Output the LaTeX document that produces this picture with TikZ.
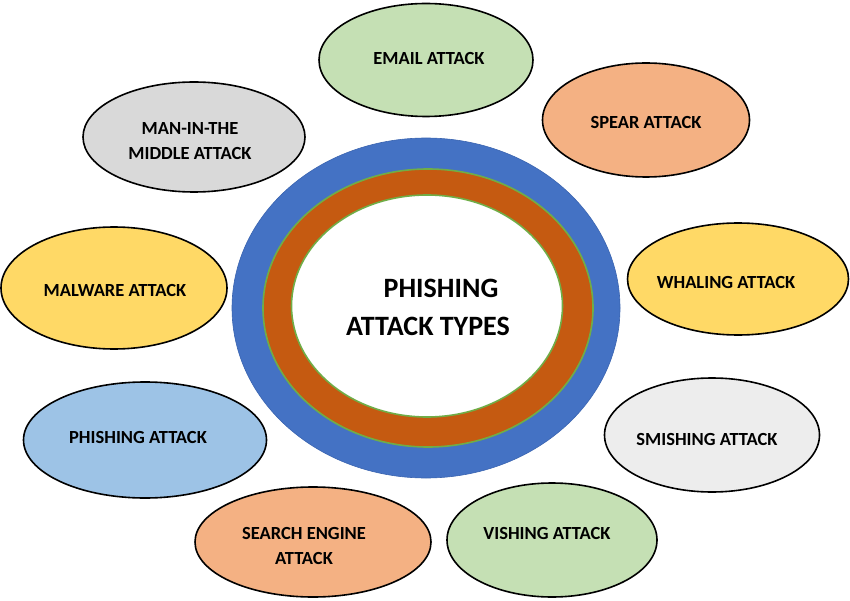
\documentclass[tikz,border=0pt]{standalone}
\usepackage{fontspec}
\setmainfont{Carlito}
\usetikzlibrary{shapes.geometric}
\definecolor{cgreen}{HTML}{C5E0B4}
\definecolor{corange}{HTML}{F4B183}
\definecolor{cgray}{HTML}{D9D9D9}
\definecolor{cyellow}{HTML}{FFD966}
\definecolor{clight}{HTML}{EDEDED}
\definecolor{cblue}{HTML}{9DC3E6}
\definecolor{ringblue}{HTML}{4472C4}
\definecolor{ringblueedge}{HTML}{3A64B0}
\definecolor{ringorange}{HTML}{C55A11}
\definecolor{ringgreen}{HTML}{70AD47}
\tikzset{
  ell/.style={ellipse, draw=black, line width=1.6pt, inner sep=0pt},
  lbl/.style={font=\bfseries\fontsize{18.5}{25}\selectfont, align=center, text=black},
  ctr/.style={font=\bfseries\fontsize{28}{32}\selectfont, text=black},
}
\begin{document}
\begin{tikzpicture}[x=1pt,y=-1pt]
\useasboundingbox (0,0) rectangle (850,601);
% central rings
\node[ellipse, fill=ringblue, draw=ringblueedge, line width=0.6pt, minimum width=388pt, minimum height=340pt, inner sep=0pt] (outer) at (426,308) {};
\node[ellipse, fill=ringorange, draw=ringgreen, line width=1.6pt, minimum width=330pt, minimum height=278pt, inner sep=0pt] (mid) at (428,308) {};
\node[ellipse, fill=white, draw=ringgreen, line width=1.6pt, minimum width=271pt, minimum height=222pt, inner sep=0pt] (inner) at (427,306) {};
\node[ctr] (t1) at (441,288) {PHISHING};
\node[ctr] (t2) at (428,326) {ATTACK TYPES};
% outer ellipses
\node[ell, fill=cgreen, minimum width=214pt, minimum height=113pt] (email) at (426,60) {};
\node[lbl] (emailt) at (429,59) {EMAIL ATTACK};
\node[ell, fill=corange, minimum width=207pt, minimum height=114pt] (spear) at (646,120) {};
\node[lbl] (speart) at (646,123) {SPEAR ATTACK};
\node[ell, fill=cgray, minimum width=222pt, minimum height=110pt] (mitm) at (194,137) {};
\node[lbl] (mitmt) at (190,141.5) {MAN-IN-THE\\MIDDLE ATTACK};
\node[ell, fill=cyellow, minimum width=221pt, minimum height=112pt] (whale) at (738,279) {};
\node[lbl] (whalet) at (726,282) {WHALING ATTACK};
\node[ell, fill=cyellow, minimum width=226pt, minimum height=122pt] (malware) at (114,288) {};
\node[lbl] (malwaret) at (115,290) {MALWARE ATTACK};
\node[ell, fill=clight, minimum width=215pt, minimum height=114pt] (smish) at (712,435) {};
\node[lbl] (smisht) at (707,439) {SMISHING ATTACK};
\node[ell, fill=cblue, minimum width=243pt, minimum height=116pt] (phish) at (145,440) {};
\node[lbl] (phisht) at (138,437) {PHISHING ATTACK};
\node[ell, fill=corange, minimum width=236pt, minimum height=110pt] (search) at (313,542) {};
\node[lbl] (searcht) at (304,546) {SEARCH ENGINE\\ATTACK};
\node[ell, fill=cgreen, minimum width=210pt, minimum height=114pt] (vish) at (552,540) {};
\node[lbl] (visht) at (547,533) {VISHING ATTACK};
\end{tikzpicture}
\end{document}
